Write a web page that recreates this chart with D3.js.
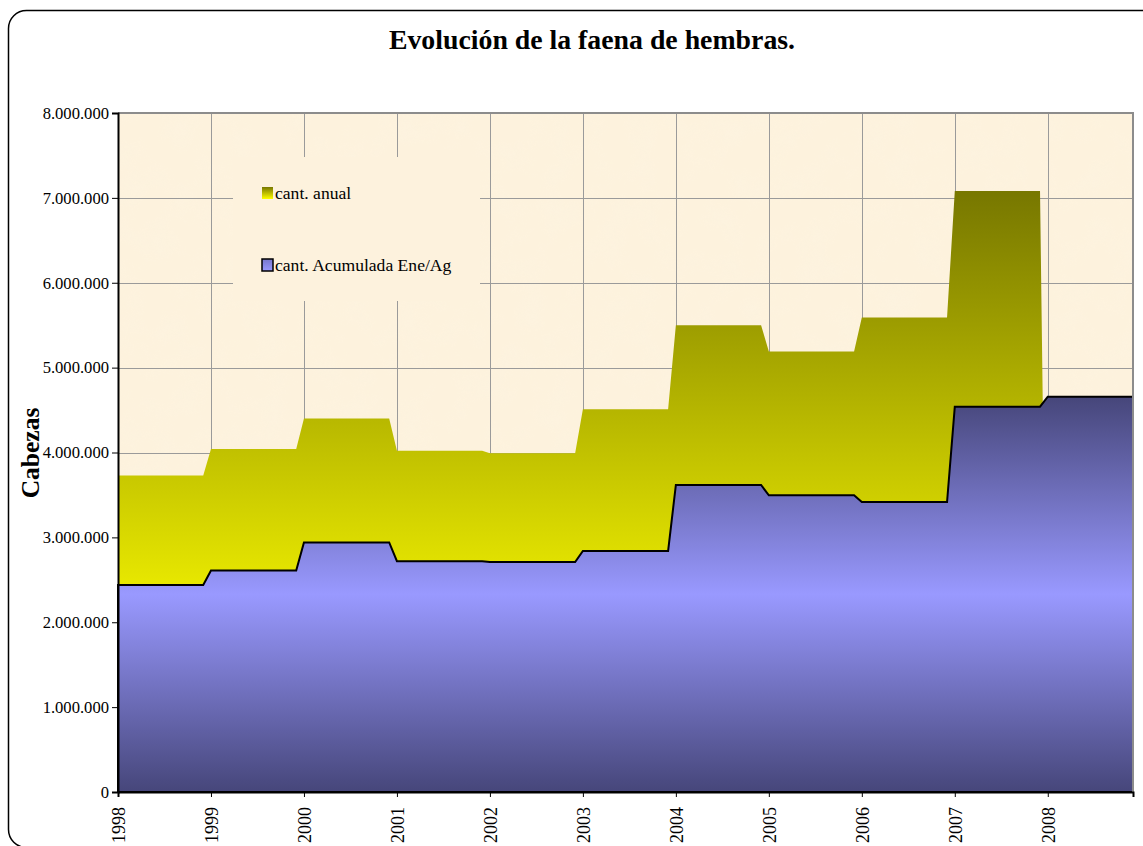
<!DOCTYPE html>
<html><head><meta charset="utf-8">
<script src="https://cdn.jsdelivr.net/npm/d3@7"></script>
<style>
html,body{margin:0;padding:0;background:#fff;}
svg{display:block;font-family:"Liberation Serif","Times New Roman",serif;}
</style></head>
<body>
<svg id="c" width="1143" height="846"></svg>
<script>
const years = [1998,1999,2000,2001,2002,2003,2004,2005,2006,2007,2008];
const annualValues = [3730000,4040000,4400000,4020000,3990000,4510000,5500000,5190000,5590000,7080000,0];
const accumValues  = [2440000,2610000,2940000,2720000,2710000,2840000,3617000,3495000,3417000,4540000,4657000];
const yTicks = [0,1000000,2000000,3000000,4000000,5000000,6000000,7000000,8000000];
const seriesNames = ["cant. anual","cant. Acumulada Ene/Ag"];
const title = "Evolución de la faena de hembras.";
const yTitle = "Cabezas";

const MONTHS = 12;
const monthly = [];
years.forEach((yr,i)=>{
  for(let m=0;m<MONTHS;m++) monthly.push({idx:i*MONTHS+m, annual:annualValues[i], accum:accumValues[i]});
});

const svg = d3.select("#c");
const L=118, R=1133, T=113, B=792;
const x = d3.scaleLinear().domain([0, monthly.length-1]).range([L,R]);
const y = d3.scaleLinear().domain([0,8000000]).range([B,T]);
const BG = "#fdf2dd";

const defs = svg.append("defs");
const gY = defs.append("linearGradient").attr("id","gy").attr("gradientUnits","userSpaceOnUse")
  .attr("x1",0).attr("x2",0).attr("y1",y(7080000)).attr("y2",B);
gY.append("stop").attr("offset",0).attr("stop-color","#777700");
gY.append("stop").attr("offset",0.66).attr("stop-color","#e8e800");
gY.append("stop").attr("offset",1).attr("stop-color","#e8e800");
const gB = defs.append("linearGradient").attr("id","gb").attr("gradientUnits","userSpaceOnUse")
  .attr("x1",0).attr("x2",0).attr("y1",y(4657000)).attr("y2",B);
gB.append("stop").attr("offset",0).attr("stop-color","#46467a");
gB.append("stop").attr("offset",0.5).attr("stop-color","#9999ff");
gB.append("stop").attr("offset",1).attr("stop-color","#46467a");
const lgY = defs.append("linearGradient").attr("id","lgy").attr("x1",0).attr("x2",0).attr("y1",0).attr("y2",1);
lgY.append("stop").attr("offset",0).attr("stop-color","#777700");
lgY.append("stop").attr("offset",1).attr("stop-color","#ffff00");
const lgB = defs.append("linearGradient").attr("id","lgb").attr("x1",0).attr("x2",0).attr("y1",0).attr("y2",1);
lgB.append("stop").attr("offset",0).attr("stop-color","#7777cc");
lgB.append("stop").attr("offset",1).attr("stop-color","#9999ff");

const flt = defs.append("filter").attr("id","tex").attr("x",0).attr("y",0).attr("width","100%").attr("height","100%");
flt.append("feTurbulence").attr("type","fractalNoise").attr("baseFrequency","0.035").attr("numOctaves",3).attr("seed",4).attr("result","n");
flt.append("feColorMatrix").attr("in","n").attr("type","matrix")
  .attr("values","0 0 0 0 0.97  0 0 0 0 0.92  0 0 0 0 0.80  0.9 0 0 0 -0.35").attr("result","c");
flt.append("feComposite").attr("in","c").attr("in2","SourceGraphic").attr("operator","in");

// outer frame
svg.append("rect").attr("x",8.5).attr("y",10.5).attr("width",1160).attr("height",837)
  .attr("rx",18).attr("fill","#fff").attr("stroke","#000").attr("stroke-width",1.5);

// plot background
svg.append("rect").attr("x",L).attr("y",T).attr("width",R-L).attr("height",B-T).attr("fill",BG);
svg.append("rect").attr("x",L).attr("y",T).attr("width",R-L).attr("height",B-T).attr("fill",BG).attr("filter","url(#tex)").attr("opacity",0.4);

// gridlines
const grid = svg.append("g").attr("stroke","#9a9a9a").attr("stroke-width",1);
yTicks.forEach(v=>{ grid.append("line").attr("x1",L).attr("x2",R).attr("y1",Math.round(y(v))+0.5).attr("y2",Math.round(y(v))+0.5); });
years.forEach((yr,i)=>{ const xv=Math.round(x(i*MONTHS))+0.5; grid.append("line").attr("x1",xv).attr("x2",xv).attr("y1",T).attr("y2",B); });

// legend background (covers gridlines)
svg.append("rect").attr("x",233).attr("y",157).attr("width",247).attr("height",144).attr("fill",BG);

// areas
const areaA = d3.area().x(d=>x(d.idx)).y0(y(0)).y1(d=>y(d.annual));
const areaB = d3.area().x(d=>x(d.idx)).y0(y(0)).y1(d=>y(d.accum));
svg.append("path").datum(monthly).attr("d",areaA).attr("fill","url(#gy)");
svg.append("path").datum(monthly).attr("d",areaB).attr("fill","url(#gb)").attr("stroke","#000").attr("stroke-width",2).attr("stroke-linejoin","miter");

// plot border top/right
svg.append("path").attr("d",`M${L},${T} H${R} V${B}`).attr("fill","none").attr("stroke","#8c8c8c").attr("stroke-width",2);

// axes
const yAxis = d3.axisLeft(y).tickValues(yTicks).tickSize(6).tickPadding(3)
  .tickFormat(d=>d3.format(",")(d).replace(/,/g,"."));
const ga = svg.append("g").attr("transform",`translate(${L},0)`).call(yAxis);
ga.select(".domain").attr("stroke","#000").attr("stroke-width",2);
ga.selectAll("text").attr("font-size",16.6).attr("fill","#000").attr("font-family","Liberation Serif, Times New Roman, serif");

const xAxis = d3.axisBottom(x).tickValues(years.map((yr,i)=>i*MONTHS)).tickSize(5)
  .tickFormat(d=>String(years[d/MONTHS]));
const gx = svg.append("g").attr("transform",`translate(0,${B})`).call(xAxis);
gx.select(".domain").attr("stroke","#000").attr("stroke-width",2);
gx.selectAll("text").attr("font-size",18).attr("fill","#000").attr("font-family","Liberation Serif, Times New Roman, serif")
  .attr("transform","rotate(-90)").attr("text-anchor","end").attr("dy","0.35em").attr("x",-15).attr("y",0);

// legend
const lg = svg.append("g");
[["url(#lgy)",null],["url(#lgb)","#000"]].forEach((s,i)=>{
  const yy = 187 + i*72;
  lg.append("rect").attr("x",262).attr("y",yy).attr("width",11).attr("height",12)
    .attr("fill",s[0]).attr("stroke",s[1]||"none").attr("stroke-width",1.5);
  lg.append("text").attr("x",275).attr("y",yy+12).attr("font-size",17.6).attr("fill","#000").text(seriesNames[i]);
});

// titles
svg.append("text").attr("x",592).attr("y",49).attr("text-anchor","middle").attr("font-size",27.8).attr("font-weight","bold").text(title);
svg.append("text").attr("transform","translate(39,453) rotate(-90)").attr("text-anchor","middle").attr("font-size",25.5).attr("font-weight","bold").text(yTitle);
</script>
</body></html>
